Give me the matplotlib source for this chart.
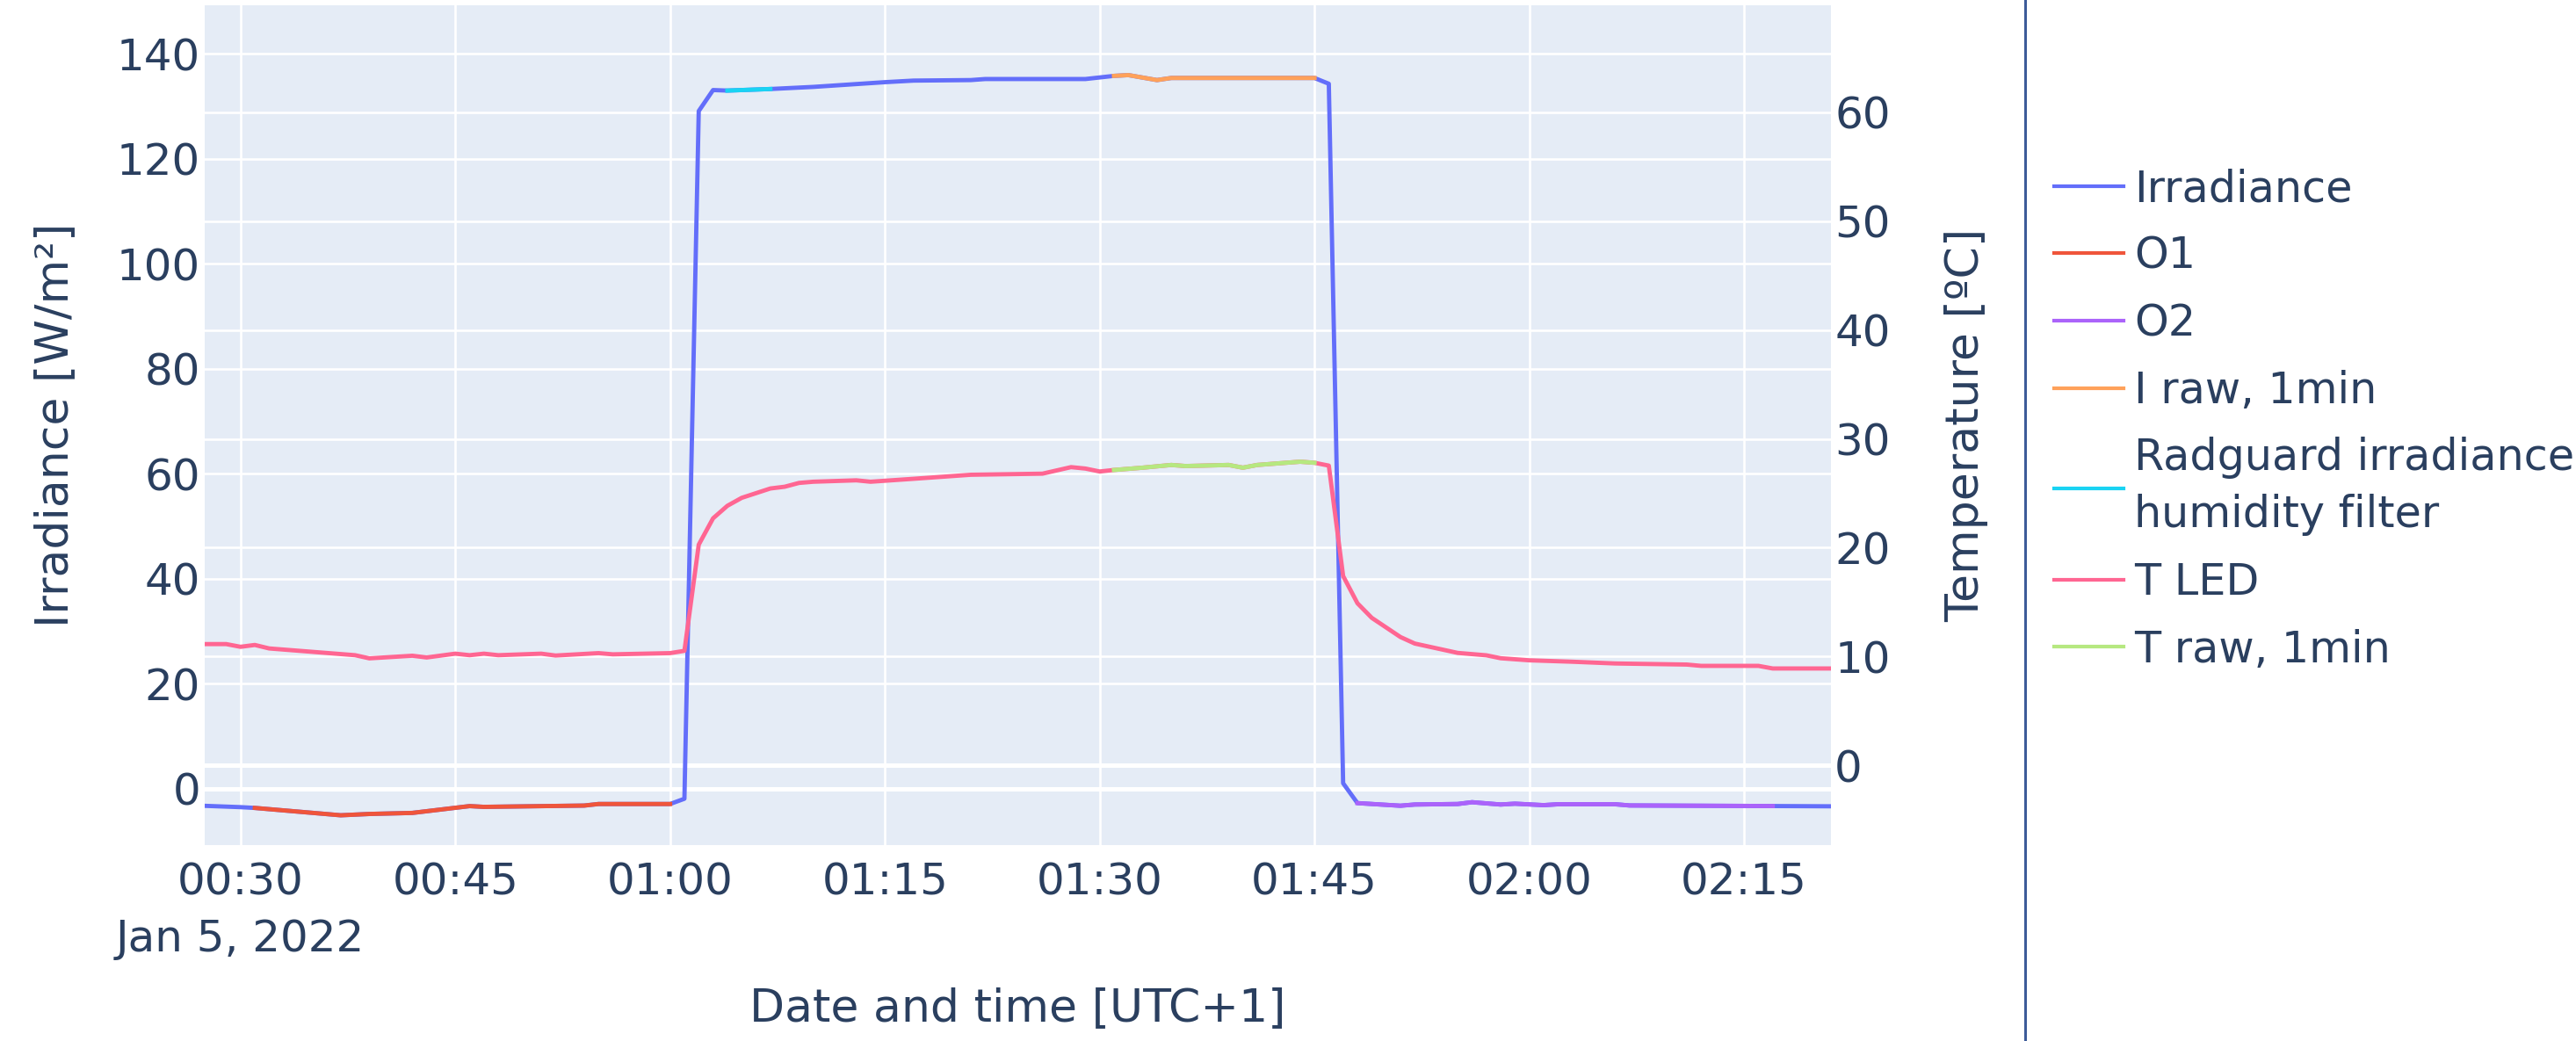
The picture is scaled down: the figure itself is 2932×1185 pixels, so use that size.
import matplotlib
matplotlib.use("Agg")
import matplotlib.pyplot as plt
import matplotlib.dates as mdates
from matplotlib.lines import Line2D
import pandas as pd

# data (vertices of each trace), 5 Jan 2022
day = "2022-01-05 "

irr_time = ["00:27", "00:30", "00:31", "00:37", "00:39", "00:42", "00:46", "00:47", "00:54",
            "00:55", "01:00", "01:01", "01:02", "01:03", "01:04", "01:07", "01:10", "01:15",
            "01:17", "01:21", "01:22", "01:29", "01:31", "01:32", "01:34", "01:35", "01:45",
            "01:46", "01:47", "01:48", "01:51", "01:52", "01:55", "01:56", "01:58", "01:59",
            "02:01", "02:02", "02:06", "02:07", "02:17", "02:22"]
irr_val = [-3.2, -3.5, -3.65, -5.05, -4.8, -4.6, -3.3, -3.45, -3.2,
           -2.9, -2.9, -1.9, 129.1, 133.1, 133.0, 133.3, 133.7, 134.6,
           134.9, 135.0, 135.2, 135.2, 135.8, 135.95, 135.0, 135.4, 135.4,
           134.3, 1.05, -2.73, -3.23, -3.0, -2.9, -2.56, -3.0, -2.84,
           -3.12, -2.95, -2.95, -3.18, -3.29, -3.35]

o1_time = ["00:31", "00:37", "00:39", "00:42", "00:46", "00:47", "00:54", "00:55", "01:00"]
o1_val = [-3.65, -5.05, -4.8, -4.6, -3.3, -3.45, -3.2, -2.9, -2.9]

o2_time = ["01:48", "01:51", "01:52", "01:55", "01:56", "01:58", "01:59", "02:01", "02:02",
           "02:06", "02:07", "02:17"]
o2_val = [-2.73, -3.23, -3.0, -2.9, -2.56, -3.0, -2.84, -3.12, -2.95, -2.95, -3.18, -3.29]

iraw_time = ["01:31", "01:32", "01:34", "01:35", "01:45"]
iraw_val = [135.8, 135.95, 135.0, 135.4, 135.4]

rad_time = ["01:04", "01:07"]
rad_val = [133.0, 133.3]

tled_time = ["00:27", "00:29", "00:30", "00:31", "00:32", "00:38", "00:39", "00:42", "00:43",
             "00:45", "00:46", "00:47", "00:48", "00:51", "00:52", "00:55", "00:56", "01:00",
             "01:01", "01:02", "01:03", "01:04", "01:05", "01:07", "01:08", "01:09", "01:10",
             "01:13", "01:14", "01:17", "01:21", "01:26", "01:27", "01:28", "01:29", "01:30",
             "01:31", "01:33", "01:35", "01:36", "01:39", "01:40", "01:41", "01:44", "01:45",
             "01:46", "01:47", "01:48", "01:49", "01:51", "01:52", "01:55", "01:57", "01:58",
             "02:00", "02:03", "02:06", "02:11", "02:12", "02:16", "02:17", "02:22"]
tled_val = [11.15, 11.15, 10.9, 11.07, 10.75, 10.13, 9.84, 10.08, 9.92,
            10.27, 10.13, 10.27, 10.13, 10.27, 10.1, 10.32, 10.21, 10.32,
            10.53, 20.28, 22.7, 23.85, 24.58, 25.44, 25.6, 25.95, 26.06,
            26.19, 26.06, 26.33, 26.7, 26.8, 27.1, 27.4, 27.27, 27.0,
            27.14, 27.35, 27.6, 27.5, 27.6, 27.35, 27.6, 27.9, 27.8,
            27.54, 17.4, 14.9, 13.56, 11.8, 11.2, 10.34, 10.12, 9.85,
            9.66, 9.53, 9.37, 9.27, 9.15, 9.15, 8.91, 8.91]

traw_time = ["01:31", "01:33", "01:35", "01:36", "01:39", "01:40", "01:41", "01:44", "01:45"]
traw_val = [27.14, 27.35, 27.6, 27.5, 27.6, 27.35, 27.6, 27.9, 27.8]


def ts(lst):
    return pd.to_datetime([day + t for t in lst])


txt = '#2a3f5f'
plt.rcParams['font.family'] = ['DejaVu Sans']

fig = plt.figure(figsize=(29.32, 11.85), dpi=100)
rect = [233 / 2932, 1 - 962 / 1185, (2084 - 233) / 2932, (962 - 5.7) / 1185]

# background axes carries the temperature grid, then irradiance, then temperature lines
axg = fig.add_axes(rect)
ax = fig.add_axes(rect, sharex=axg)
ax2 = fig.add_axes(rect, sharex=axg)
axg.set_zorder(0)
ax.set_zorder(1)
ax2.set_zorder(2)
axg.set_facecolor('#E5ECF6')
ax.patch.set_visible(False)
ax2.patch.set_visible(False)

lw = 3.5
ax.plot(ts(irr_time), irr_val, color='#636EFA', lw=lw, label='Irradiance')
ax.plot(ts(o1_time), o1_val, color='#EF553B', lw=lw, label='O1')
ax.plot(ts(o2_time), o2_val, color='#AB63FA', lw=lw, label='O2')
ax.plot(ts(iraw_time), iraw_val, color='#FFA15A', lw=lw, label='I raw, 1min')
ax.plot(ts(rad_time), rad_val, color='#19D3F3', lw=lw, label='Radguard irradiance\nhumidity filter')
ax2.plot(ts(tled_time), tled_val, color='#FF6692', lw=lw, label='T LED')
ax2.plot(ts(traw_time), traw_val, color='#B6E880', lw=lw, label='T raw, 1min')

ax.set_xlim(pd.Timestamp(day + "00:27:30"), pd.Timestamp(day + "02:21:04"))
ax.set_ylim(-10.73, 149.3)
ax2.set_ylim(-7.31, 69.84)
axg.set_ylim(-7.31, 69.84)

ax.set_yticks([0, 20, 40, 60, 80, 100, 120, 140])
ax2.set_yticks([0, 10, 20, 30, 40, 50, 60])
axg.set_yticks([0, 10, 20, 30, 40, 50, 60])

ax.xaxis.set_major_locator(mdates.MinuteLocator(byminute=[0, 15, 30, 45]))
ax.xaxis.set_major_formatter(mdates.DateFormatter('%H:%M'))

# grids (plotly look): thin white lines, thicker zero lines
axg.grid(True, axis='y', color='white', lw=1.9)
axg.axhline(0, color='white', lw=3.6)
ax.grid(True, color='white', lw=1.9)
ax.set_axisbelow(True)
ax.axhline(0, color='white', lw=3.6, zorder=0.5)

for a in (axg, ax, ax2):
    for s in a.spines.values():
        s.set_visible(False)
axg.tick_params(left=False, bottom=False, labelleft=False, labelbottom=False)
ax2.tick_params(left=False, bottom=False, labelleft=False, labelbottom=False,
                right=True, labelright=True, length=0, pad=3, labelsize=36, colors=txt)
ax.tick_params(axis='y', length=0, pad=3.5, labelsize=36, colors=txt)
ax.tick_params(axis='x', length=0, pad=13, labelsize=36, colors=txt)

ax.set_ylabel('Irradiance [W/m²]', fontsize=37.5, color=txt, va='center')
ax.yaxis.set_label_coords(-0.0918, 0.5)
ax2.set_ylabel('Temperature [ºC]', fontsize=37.5, color=txt, va='center')
ax2.yaxis.set_label_position('right')
ax2.yaxis.set_label_coords(1.0697, 0.5)
ax.set_xlabel('Date and time [UTC+1]', fontsize=37.5, color=txt, va='center')
ax.xaxis.set_label_coords(0.5, -0.1945)

ax.annotate('Jan 5, 2022', xy=(pd.Timestamp(day + "00:30"), 0), xycoords=('data', 'axes fraction'),
            xytext=(0, -60), textcoords='offset points', ha='center', va='top',
            fontsize=36, color=txt, annotation_clip=False)

# separator line right of the plot
fig.add_artist(Line2D([2305 / 2932] * 2, [0, 1], transform=fig.transFigure, color='#3d5b99', lw=2.2))

h1, l1 = ax.get_legend_handles_labels()
h2, l2 = ax2.get_legend_handles_labels()
leg = fig.legend(h1 + h2, l1 + l2, loc='upper left', bbox_to_anchor=(2338 / 2932, 1 - 191 / 1185),
                 frameon=False, fontsize=35.5, handlelength=1.6, handletextpad=0.25,
                 labelspacing=0.58, borderpad=0, borderaxespad=0)
for t in leg.get_texts():
    t.set_color(txt)
    t.set_linespacing(1.45)
for ln in leg.get_lines():
    ln.set_linewidth(3)

fig.savefig('out.png', dpi=100, facecolor='white')
